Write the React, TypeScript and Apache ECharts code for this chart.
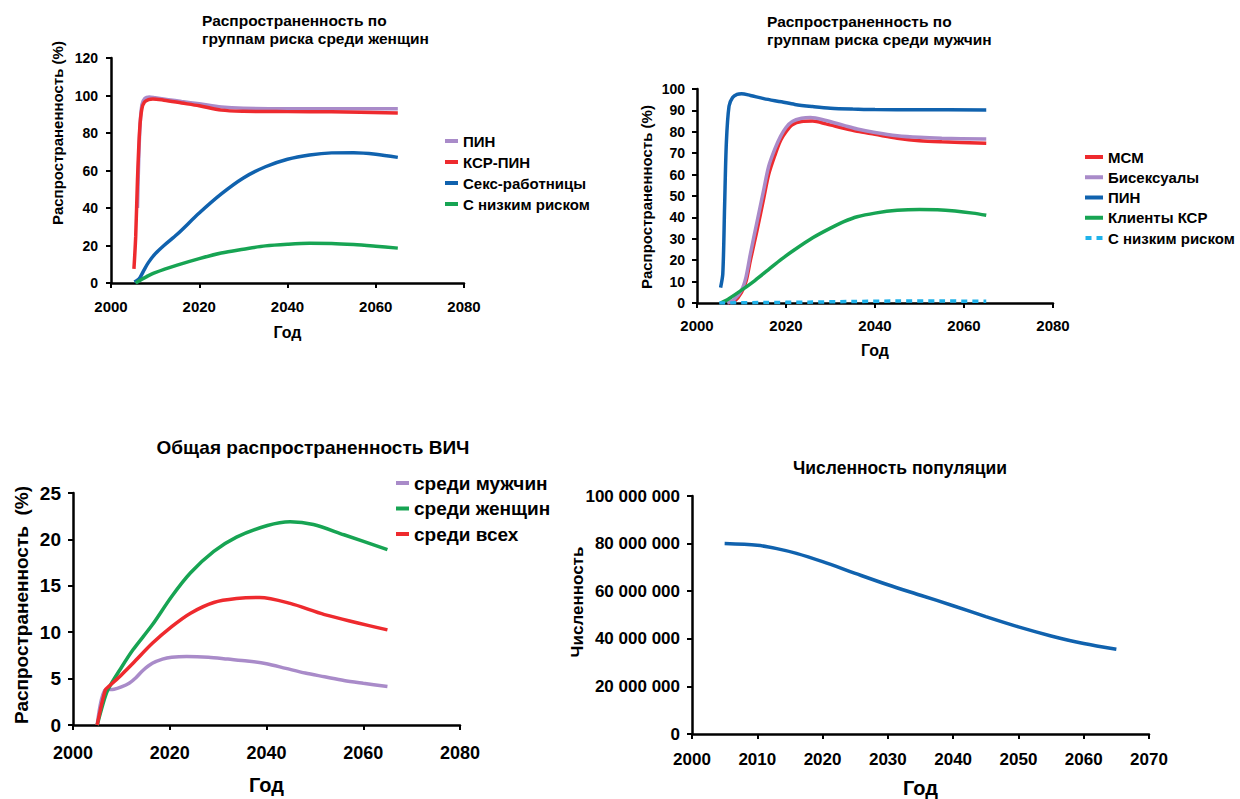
import React, { useEffect, useRef } from "react";
import * as echarts from "echarts";

const FONT = '"Liberation Sans", Arial, Helvetica, sans-serif';

// ---------- Chart 1: women by risk group ----------
const wPinYears = [2006.0, 2006.5, 2007.0, 2007.7, 2008.7, 2010, 2013, 2016, 2020, 2025, 2030, 2040, 2050, 2065];
const wPinValues = [40, 80, 95, 98.5, 99.2, 98.8, 97.8, 96.8, 95.6, 93.9, 93.2, 93.0, 93.0, 93.0];
const wKsrPinYears = [2005.2, 2005.6, 2006.0, 2006.5, 2007.0, 2007.6, 2008.5, 2009.5, 2012, 2016, 2020, 2025, 2030, 2040, 2050, 2065];
const wKsrPinValues = [7.5, 25, 55, 82, 93, 96.5, 97.8, 98.2, 97.5, 96.0, 94.5, 92.2, 91.6, 91.4, 91.3, 90.7];
const wSexYears = [2005.3, 2006, 2006.6, 2007.5, 2008.5, 2010, 2012, 2015, 2020, 2025, 2030, 2035, 2040, 2045, 2050, 2055, 2060, 2065];
const wSexValues = [0.5, 1.5, 3, 7, 11, 15.5, 20, 26, 37.3, 47.5, 56, 62, 66, 68.3, 69.4, 69.5, 68.7, 67];
const wLowYears = [2005.6, 2007, 2008, 2010, 2015, 2020, 2025, 2030, 2035, 2040, 2045, 2050, 2055, 2060, 2065];
const wLowValues = [0, 2, 3.3, 5.5, 9.5, 13, 16, 18, 19.8, 20.7, 21.2, 21.1, 20.5, 19.6, 18.6];

// ---------- Chart 2: men by risk group ----------
const mMsmYears = [2007, 2008.5, 2010, 2011, 2012, 2013.5, 2015, 2016.1, 2017.5, 2018.8, 2020, 2021.4, 2023.5, 2026, 2029, 2033, 2036, 2040, 2045, 2050, 2055, 2065];
const mMsmValues = [0, 1, 5, 10, 20, 34, 49, 60, 69, 76, 80, 83.3, 84.8, 85, 83.7, 81.6, 80.2, 78.8, 77, 75.8, 75.3, 74.7];
const mBiYears = [2006.8, 2008.3, 2010, 2011, 2012, 2013.5, 2015, 2016.1, 2017.5, 2018.8, 2020, 2021.4, 2023.5, 2025.5, 2029, 2033, 2036, 2040, 2045, 2050, 2055, 2065];
const mBiValues = [0, 1.5, 6, 12, 23, 38, 53, 63.8, 72, 78, 82, 84.8, 86.3, 86.7, 85.3, 83, 81.3, 79.7, 78.2, 77.4, 77, 76.6];
const mPinYears = [2005.3, 2005.8, 2006.2, 2006.6, 2007.2, 2008, 2009, 2010, 2012, 2015, 2019, 2022, 2026, 2030, 2035, 2040, 2050, 2065];
const mPinValues = [7.2, 13.7, 45, 75, 92, 96, 97.5, 97.8, 97, 95.5, 94, 92.8, 91.8, 91, 90.6, 90.4, 90.3, 90.2];
const mClientYears = [2005.3, 2007, 2010, 2013, 2016, 2019, 2022, 2026, 2030, 2033, 2036, 2040, 2045, 2050, 2054, 2058, 2062, 2065];
const mClientValues = [0, 1.8, 6, 10.5, 15.5, 20.5, 25, 30.5, 35, 38, 40.3, 42, 43.3, 43.7, 43.6, 43, 42, 41];
const mLowYears = [2005, 2015, 2025, 2035, 2045, 2055, 2065];
const mLowValues = [0, 0.2, 0.4, 0.7, 0.9, 0.9, 0.8];

// ---------- Chart 3: overall prevalence ----------
const tMenYears = [2005, 2006.7, 2008.5, 2010, 2011.6, 2013, 2014.5, 2016.4, 2018.5, 2020.4, 2023.5, 2028, 2032, 2036, 2040, 2044, 2048, 2052, 2056, 2060, 2065];
const tMenValues = [0, 3.8, 3.85, 4.1, 4.5, 5.1, 5.9, 6.65, 7.1, 7.3, 7.38, 7.3, 7.1, 6.9, 6.6, 6.1, 5.6, 5.2, 4.8, 4.5, 4.15];
const tWomenYears = [2005, 2006.5, 2007.3, 2010, 2012.4, 2016.4, 2020.4, 2024.3, 2029.1, 2033.8, 2040.2, 2044.9, 2049.7, 2056, 2065];
const tWomenValues = [0, 2.8, 3.9, 6.2, 8.1, 10.8, 13.85, 16.4, 18.7, 20.25, 21.5, 21.9, 21.6, 20.5, 18.9];
const tAllYears = [2005, 2006.7, 2007.5, 2010, 2012.4, 2016.4, 2020.4, 2024.3, 2029.1, 2033.8, 2038.6, 2044.9, 2052, 2065];
const tAllValues = [0, 3.8, 4.2, 5.4, 6.65, 8.8, 10.6, 12.05, 13.2, 13.62, 13.74, 13.1, 11.9, 10.25];

// ---------- Chart 4: population ----------
const popYears = [2005, 2010, 2013, 2016, 2020, 2025, 2030, 2035, 2040, 2045, 2050, 2055, 2060, 2065];
const popValues = [80000000, 79300000, 77900000, 75900000, 72400000, 67500000, 62700000, 58300000, 53900000, 49300000, 45000000, 41200000, 38000000, 35600000];

const C_PURPLE = "#a98bc9";
const C_RED = "#ee2a2e";
const C_BLUE = "#1062ae";
const C_GREEN = "#17a453";
const C_CYAN = "#1fb2ea";

const zip = (xs: number[], ys: number[]) => xs.map((x, i) => [x, ys[i]]);

function xAx(gridIndex: number, min: number, max: number, interval: number, fontSize: number, margin: number, nameSize: number, nameGap: number) {
  return {
    type: "value",
    gridIndex,
    min,
    max,
    interval,
    splitLine: { show: false },
    axisLine: { show: true, onZero: false, lineStyle: { color: "#000", width: 2.5 } },
    axisTick: { show: true, length: 5, lineStyle: { color: "#000", width: 2 } },
    axisLabel: { color: "#000", fontSize, fontWeight: "bold", fontFamily: FONT, margin, formatter: (v: number) => String(v) },
    name: "Год",
    nameLocation: "middle",
    nameGap,
    nameTextStyle: { color: "#000", fontSize: nameSize, fontWeight: "bold", fontFamily: FONT },
  };
}

function yAx(gridIndex: number, min: number, max: number, interval: number, fontSize: number, margin: number, formatter?: (v: number) => string) {
  return {
    type: "value",
    gridIndex,
    min,
    max,
    interval,
    splitLine: { show: false },
    axisLine: { show: true, onZero: false, lineStyle: { color: "#000", width: 2.5 } },
    axisTick: { show: true, length: 5, lineStyle: { color: "#000", width: 2 } },
    axisLabel: { color: "#000", fontSize, fontWeight: "bold", fontFamily: FONT, margin, formatter: formatter || ((v: number) => String(v)) },
  };
}

function line(name: string, xi: number, xs: number[], ys: number[], color: string, width: number, dashed = false) {
  return {
    type: "line",
    name,
    xAxisIndex: xi,
    yAxisIndex: xi,
    data: zip(xs, ys),
    smooth: 0.3,
    symbol: "none",
    showSymbol: false,
    itemStyle: { color },
    lineStyle: { color, width, type: dashed ? [6, 5] : "solid", cap: "butt" },
    z: 3,
  };
}

function yName(text: string, x: number, y: number, fontSize: number) {
  return {
    type: "text",
    x,
    y,
    rotation: Math.PI / 2,
    style: {
      text,
      fill: "#000",
      fontSize,
      fontWeight: "bold",
      fontFamily: FONT,
      align: "center",
      verticalAlign: "middle",
    },
  };
}

const fmtSpaces = (v: number) => String(v).replace(/\B(?=(\d{3})+(?!\d))/g, " ");

const rectIcon = "rect";
const dashIcon = "path://M0,0L6,0L6,4L0,4Z M11,0L17,0L17,4L11,4Z";

export default function App() {
  const ref = useRef<HTMLDivElement>(null);
  useEffect(() => {
    if (!ref.current) return;
    const chart = echarts.init(ref.current, undefined, { renderer: "svg" });
    const titleStyle = (size: number) => ({ color: "#000", fontSize: size, fontWeight: "bold", fontFamily: FONT, lineHeight: 18 });
    const legendText = (size: number, lh: number) => ({ color: "#000", fontSize: size, fontWeight: "bold", fontFamily: FONT, lineHeight: lh });
    chart.setOption({
      animation: false,
      backgroundColor: "#fff",
      title: [
        { text: "Распространенность по\nгруппам риска среди женщин", left: 202, top: 11, textStyle: titleStyle(15.5), padding: 0 },
        { text: "Распространенность по\nгруппам риска среди мужчин", left: 767, top: 12, textStyle: titleStyle(15.5), padding: 0 },
        { text: "Общая распространенность ВИЧ", left: 313, top: 438, textAlign: "center", textStyle: titleStyle(19), padding: 0 },
        { text: "Численность популяции", left: 900, top: 459, textAlign: "center", textStyle: titleStyle(17.5), padding: 0 },
      ],
      grid: [
        { left: 111, top: 58, width: 353, height: 225 },
        { left: 697, top: 89, width: 356, height: 214 },
        { left: 73, top: 493, width: 387, height: 232 },
        { left: 692, top: 496, width: 457, height: 240 },
      ],
      xAxis: [
        xAx(0, 2000, 2080, 20, 15, 16, 16, 41),
        xAx(1, 2000, 2080, 20, 15, 15, 16, 39),
        xAx(2, 2000, 2080, 20, 18, 19, 20, 50),
        xAx(3, 2000, 2070, 10, 17, 17, 20, 44),
      ],
      yAxis: [
        yAx(0, 0, 120, 20, 14, 13),
        yAx(1, 0, 100, 10, 14, 12),
        yAx(2, 0, 25, 5, 19, 12),
        yAx(3, 0, 100000000, 20000000, 17, 12, fmtSpaces),
      ],
      legend: [
        {
          orient: "vertical", left: 445, top: 133, itemGap: 5, itemWidth: 13, itemHeight: 4,
          textStyle: legendText(15, 16), padding: 0, selectedMode: false,
          data: [
            { name: "ПИН", icon: rectIcon, itemStyle: { color: C_PURPLE } },
            { name: "КСР-ПИН", icon: rectIcon, itemStyle: { color: C_RED } },
            { name: "Секс-работницы", icon: rectIcon, itemStyle: { color: C_BLUE } },
            { name: "С низким риском", icon: rectIcon, itemStyle: { color: C_GREEN } },
          ],
        },
        {
          orient: "vertical", left: 1085, top: 149, itemGap: 4.25, itemWidth: 18, itemHeight: 4,
          textStyle: legendText(15, 16), padding: 0, selectedMode: false,
          data: [
            { name: "МСМ", icon: rectIcon, itemStyle: { color: C_RED } },
            { name: "Бисексуалы", icon: rectIcon, itemStyle: { color: C_PURPLE } },
            { name: "ПИН ", icon: rectIcon, itemStyle: { color: C_BLUE } },
            { name: "Клиенты КСР", icon: rectIcon, itemStyle: { color: C_GREEN } },
            { name: "С низким риском ", icon: dashIcon, itemStyle: { color: C_CYAN } },
          ],
        },
        {
          orient: "vertical", left: 396, top: 473, itemGap: 5.5, itemWidth: 13, itemHeight: 4,
          textStyle: legendText(19, 20), padding: 0, selectedMode: false,
          data: [
            { name: "среди мужчин", icon: rectIcon, itemStyle: { color: C_PURPLE } },
            { name: "среди женщин", icon: rectIcon, itemStyle: { color: C_GREEN } },
            { name: "среди всех", icon: rectIcon, itemStyle: { color: C_RED } },
          ],
        },
      ],
      graphic: [
        yName("Распространенность (%)", 57, 133, 15),
        yName("Распространенность (%)", 646, 197, 15),
        yName("Распространенность  (%)", 21, 605, 19),
        yName("Численность", 577, 602, 17),
      ],
      series: [
        line("ПИН", 0, wPinYears, wPinValues, C_PURPLE, 3.5),
        line("КСР-ПИН", 0, wKsrPinYears, wKsrPinValues, C_RED, 3.5),
        line("Секс-работницы", 0, wSexYears, wSexValues, C_BLUE, 3.5),
        line("С низким риском", 0, wLowYears, wLowValues, C_GREEN, 3.5),

        line("МСМ", 1, mMsmYears, mMsmValues, C_RED, 3.5),
        line("Бисексуалы", 1, mBiYears, mBiValues, C_PURPLE, 3.5),
        line("ПИН ", 1, mPinYears, mPinValues, C_BLUE, 3.5),
        line("Клиенты КСР", 1, mClientYears, mClientValues, C_GREEN, 3.5),
        line("С низким риском ", 1, mLowYears, mLowValues, C_CYAN, 3.5, true),

        line("среди мужчин", 2, tMenYears, tMenValues, C_PURPLE, 3.5),
        line("среди женщин", 2, tWomenYears, tWomenValues, C_GREEN, 3.5),
        line("среди всех", 2, tAllYears, tAllValues, C_RED, 3.5),

        line("Численность", 3, popYears, popValues, C_BLUE, 3.5),
      ],
    });
    return () => chart.dispose();
  }, []);
  return (
    <div
      ref={ref}
      style={{ position: "fixed", left: 0, top: 0, width: 1240, height: 799, background: "#fff" }}
    />
  );
}
